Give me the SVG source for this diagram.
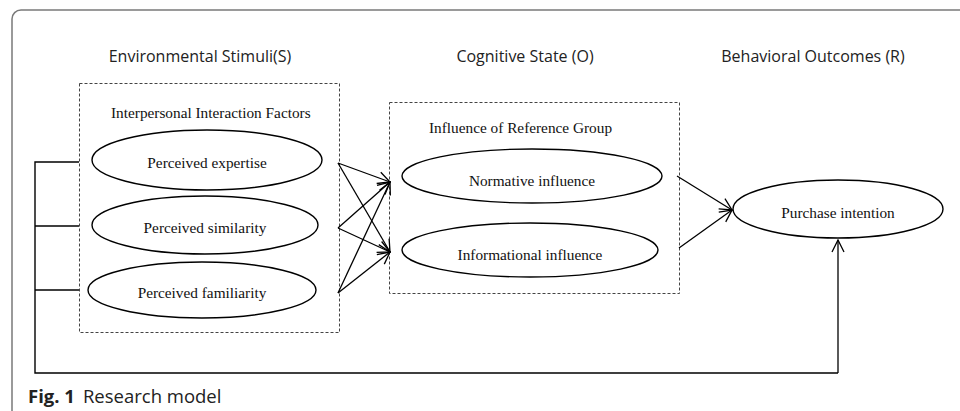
<svg xmlns="http://www.w3.org/2000/svg" width="960" height="411" viewBox="0 0 960 411">
<defs>
<marker id="arr" viewBox="0 0 14 14" refX="13" refY="7" markerWidth="14" markerHeight="14" markerUnits="userSpaceOnUse" orient="auto">
<path d="M1,1 L13,7 L1,13" fill="none" stroke="#000" stroke-width="1.3"/>
</marker>
<style>
.frame{fill:none;stroke:#7a7a7a;stroke-width:1.5}
.head{font-family:"Open Sans","Noto Sans",sans-serif;font-size:16px;fill:#222;text-anchor:middle}
.grp{fill:none;stroke:#444;stroke-width:1;stroke-dasharray:3,2}
.lbl{font-family:"Liberation Serif","Times New Roman",serif;font-size:15.3px;fill:#111}
.ell{fill:#fff;stroke:#000;stroke-width:1.4}
.etx{font-family:"Liberation Serif","Times New Roman",serif;font-size:15.3px;fill:#111;text-anchor:middle}
.ln{fill:none;stroke:#000;stroke-width:1.4}
.ar{fill:none;stroke:#000;stroke-width:1.3;marker-end:url(#arr)}
.cap{font-family:"Open Sans","Noto Sans",sans-serif;font-size:18.5px;fill:#222}
</style>
</defs>
<rect class="frame" x="12" y="10" width="970" height="420" rx="9"/>
<text class="head" x="200" y="62">Environmental Stimuli(S)</text>
<text class="head" x="525" y="62">Cognitive State (O)</text>
<text class="head" x="813" y="62">Behavioral Outcomes (R)</text>

<g id="group-s">
<rect class="grp" x="79.5" y="83.5" width="260" height="249"/>
<text class="lbl" x="111" y="118">Interpersonal Interaction Factors</text>
</g>
<g id="group-o">
<rect class="grp" x="389.5" y="102.5" width="290" height="191"/>
<text class="lbl" x="429" y="133">Influence of Reference Group</text>
</g>

<g id="connectors">
<path class="ln" d="M79,162 H35 V373 H838"/>
<path class="ln" d="M79,226 H35"/>
<path class="ln" d="M79,290 H35"/>
<path class="ar" d="M838,373 V240"/>
<line class="ar" x1="338" y1="163" x2="390" y2="182"/>
<line class="ar" x1="338" y1="163" x2="390" y2="252"/>
<line class="ar" x1="338" y1="228" x2="390" y2="182"/>
<line class="ar" x1="338" y1="228" x2="390" y2="252"/>
<line class="ar" x1="338" y1="293" x2="390" y2="182"/>
<line class="ar" x1="338" y1="293" x2="390" y2="252"/>
<line class="ar" x1="677" y1="176" x2="732" y2="210"/>
<line class="ar" x1="679" y1="248" x2="732" y2="210"/>
</g>

<g id="perceived-expertise">
<ellipse class="ell" cx="207" cy="160" rx="115" ry="30"/>
<text class="etx" x="207" y="168">Perceived expertise</text>
</g>
<g id="perceived-similarity">
<ellipse class="ell" cx="205" cy="225" rx="113" ry="29"/>
<text class="etx" x="205" y="233">Perceived similarity</text>
</g>
<g id="perceived-familiarity">
<ellipse class="ell" cx="202" cy="290" rx="114" ry="28"/>
<text class="etx" x="202" y="298">Perceived familiarity</text>
</g>
<g id="normative-influence">
<ellipse class="ell" cx="532" cy="176" rx="130" ry="27"/>
<text class="etx" x="532" y="186">Normative influence</text>
</g>
<g id="informational-influence">
<ellipse class="ell" cx="530" cy="250" rx="128" ry="27"/>
<text class="etx" x="530" y="260">Informational influence</text>
</g>
<g id="purchase-intention">
<ellipse class="ell" cx="838" cy="209" rx="105" ry="29"/>
<text class="etx" x="838" y="218">Purchase intention</text>
</g>

<text class="cap" x="28" y="403"><tspan font-weight="bold">Fig. 1</tspan><tspan dx="8">Research model</tspan></text>
</svg>
